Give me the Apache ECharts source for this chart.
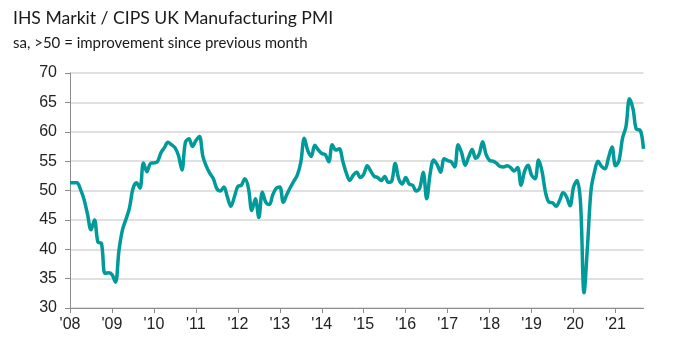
<!DOCTYPE html>
<html>
<head>
<meta charset="utf-8">
<script src="https://cdn.jsdelivr.net/npm/echarts@6/dist/echarts.min.js"></script>
<style>html,body{margin:0;padding:0;background:#fff;}#c{width:690px;height:356px;}</style>
</head>
<body>
<div id="c"></div>
<script>
// Years shown on the x axis (monthly data, Jan 2008 - Sep 2021)
const years = [2008,2009,2010,2011,2012,2013,2014,2015,2016,2017,2018,2019,2020,2021];
const lastYearMonths = 9;
const yTicks = [30,35,40,45,50,55,60,65,70];

const pmi2008 = [51.3,51.3,51.3,50.2,48.5,46.0,43.3,45.0,41.2,41.0,35.9,36.0];
const pmi2009 = [35.7,34.4,39.8,43.3,45.1,47.0,50.3,51.3,50.4,54.7,53.2,54.6];
const pmi2010 = [54.7,54.9,56.4,57.3,58.2,57.8,57.3,56.0,53.5,58.2,58.8,57.5];
const pmi2011 = [58.5,59.2,55.8,54.1,52.9,52.0,50.3,49.9,50.6,48.9,47.3,48.9];
const pmi2012 = [50.7,50.9,52.0,50.5,46.6,48.6,45.4,49.7,48.0,47.6,49.3,50.4];
const pmi2013 = [50.6,48.0,49.3,50.5,51.6,52.6,54.8,58.9,56.8,55.8,57.7,56.9];
const pmi2014 = [56.3,56.1,54.9,57.8,56.9,57.1,55.0,53.0,51.7,52.6,53.1,52.2];
const pmi2015 = [52.8,54.2,53.3,52.4,52.2,51.7,52.4,51.4,51.6,54.6,52.0,51.1];
const pmi2016 = [52.2,51.1,50.9,49.9,50.4,53.1,48.6,52.9,55.2,54.4,53.1,55.4];
const pmi2017 = [55.1,54.9,54.0,57.8,56.4,54.3,55.7,57.0,55.5,56.2,58.3,56.1];
const pmi2018 = [55.1,55.0,54.6,54.1,54.0,54.2,53.9,53.3,53.9,50.9,53.3,54.3];
const pmi2019 = [52.6,52.0,55.2,53.2,49.6,48.0,47.9,47.3,48.3,49.6,48.9,47.4];
const pmi2020 = [50.6,51.7,47.8,32.6,40.7,50.1,53.2,55.0,54.1,53.7,55.6,57.4];
const pmi2021 = [54.2,55.1,58.9,60.9,65.6,63.9,60.4,60.3,57.1];

const values = [].concat(pmi2008,pmi2009,pmi2010,pmi2011,pmi2012,pmi2013,pmi2014,
  pmi2015,pmi2016,pmi2017,pmi2018,pmi2019,pmi2020,pmi2021);

const categories = [];
years.forEach((y, i) => {
  const n = (i === years.length - 1) ? lastYearMonths : 12;
  for (let m = 1; m <= n; m++) categories.push(y + '-' + (m < 10 ? '0' + m : m));
});

const chart = echarts.init(document.getElementById('c'), null, {renderer: 'canvas'});
chart.setOption({
  animation: false,
  backgroundColor: '#ffffff',
  title: [
    {text: 'IHS Markit / CIPS UK Manufacturing PMI', left: 8, top: 4,
     textStyle: {fontFamily: 'Lato', fontSize: 17.6, fontWeight: 'normal', color: '#1a1a1a'}},
    {text: 'sa, >50 = improvement since previous month', left: 8, top: 31,
     textStyle: {fontFamily: 'Lato', fontSize: 15, fontWeight: 'normal', color: '#1a1a1a'}}
  ],
  grid: {left: 70, right: 46.5, top: 73, bottom: 48, containLabel: false},
  xAxis: {
    type: 'category',
    data: categories,
    boundaryGap: false,
    axisLine: {show: true, lineStyle: {color: '#8c8c8c', width: 1}},
    axisTick: {show: true, length: 5, lineStyle: {color: '#8c8c8c'},
      interval: (idx) => idx % 12 === 0},
    axisLabel: {
      interval: (idx) => idx % 12 === 0,
      formatter: (v) => "'" + v.slice(2, 4),
      fontFamily: 'Liberation Sans', fontSize: 16, color: '#222', margin: 9
    },
    splitLine: {show: false}
  },
  yAxis: {
    type: 'value',
    min: yTicks[0], max: yTicks[yTicks.length - 1], interval: 5,
    axisLine: {show: true, lineStyle: {color: '#8c8c8c', width: 1}},
    axisTick: {show: true, length: 5, lineStyle: {color: '#8c8c8c'}},
    axisLabel: {fontFamily: 'Liberation Sans', fontSize: 16, color: '#222', margin: 13},
    splitLine: {show: true, lineStyle: {color: '#d6d6d6', width: 1.7}}
  },
  series: [{
    type: 'line',
    data: values,
    smooth: 0.35,
    symbol: 'none',
    lineStyle: {color: '#009a9a', width: 3.5},
    z: 3
  }]
});
</script>
</body>
</html>
